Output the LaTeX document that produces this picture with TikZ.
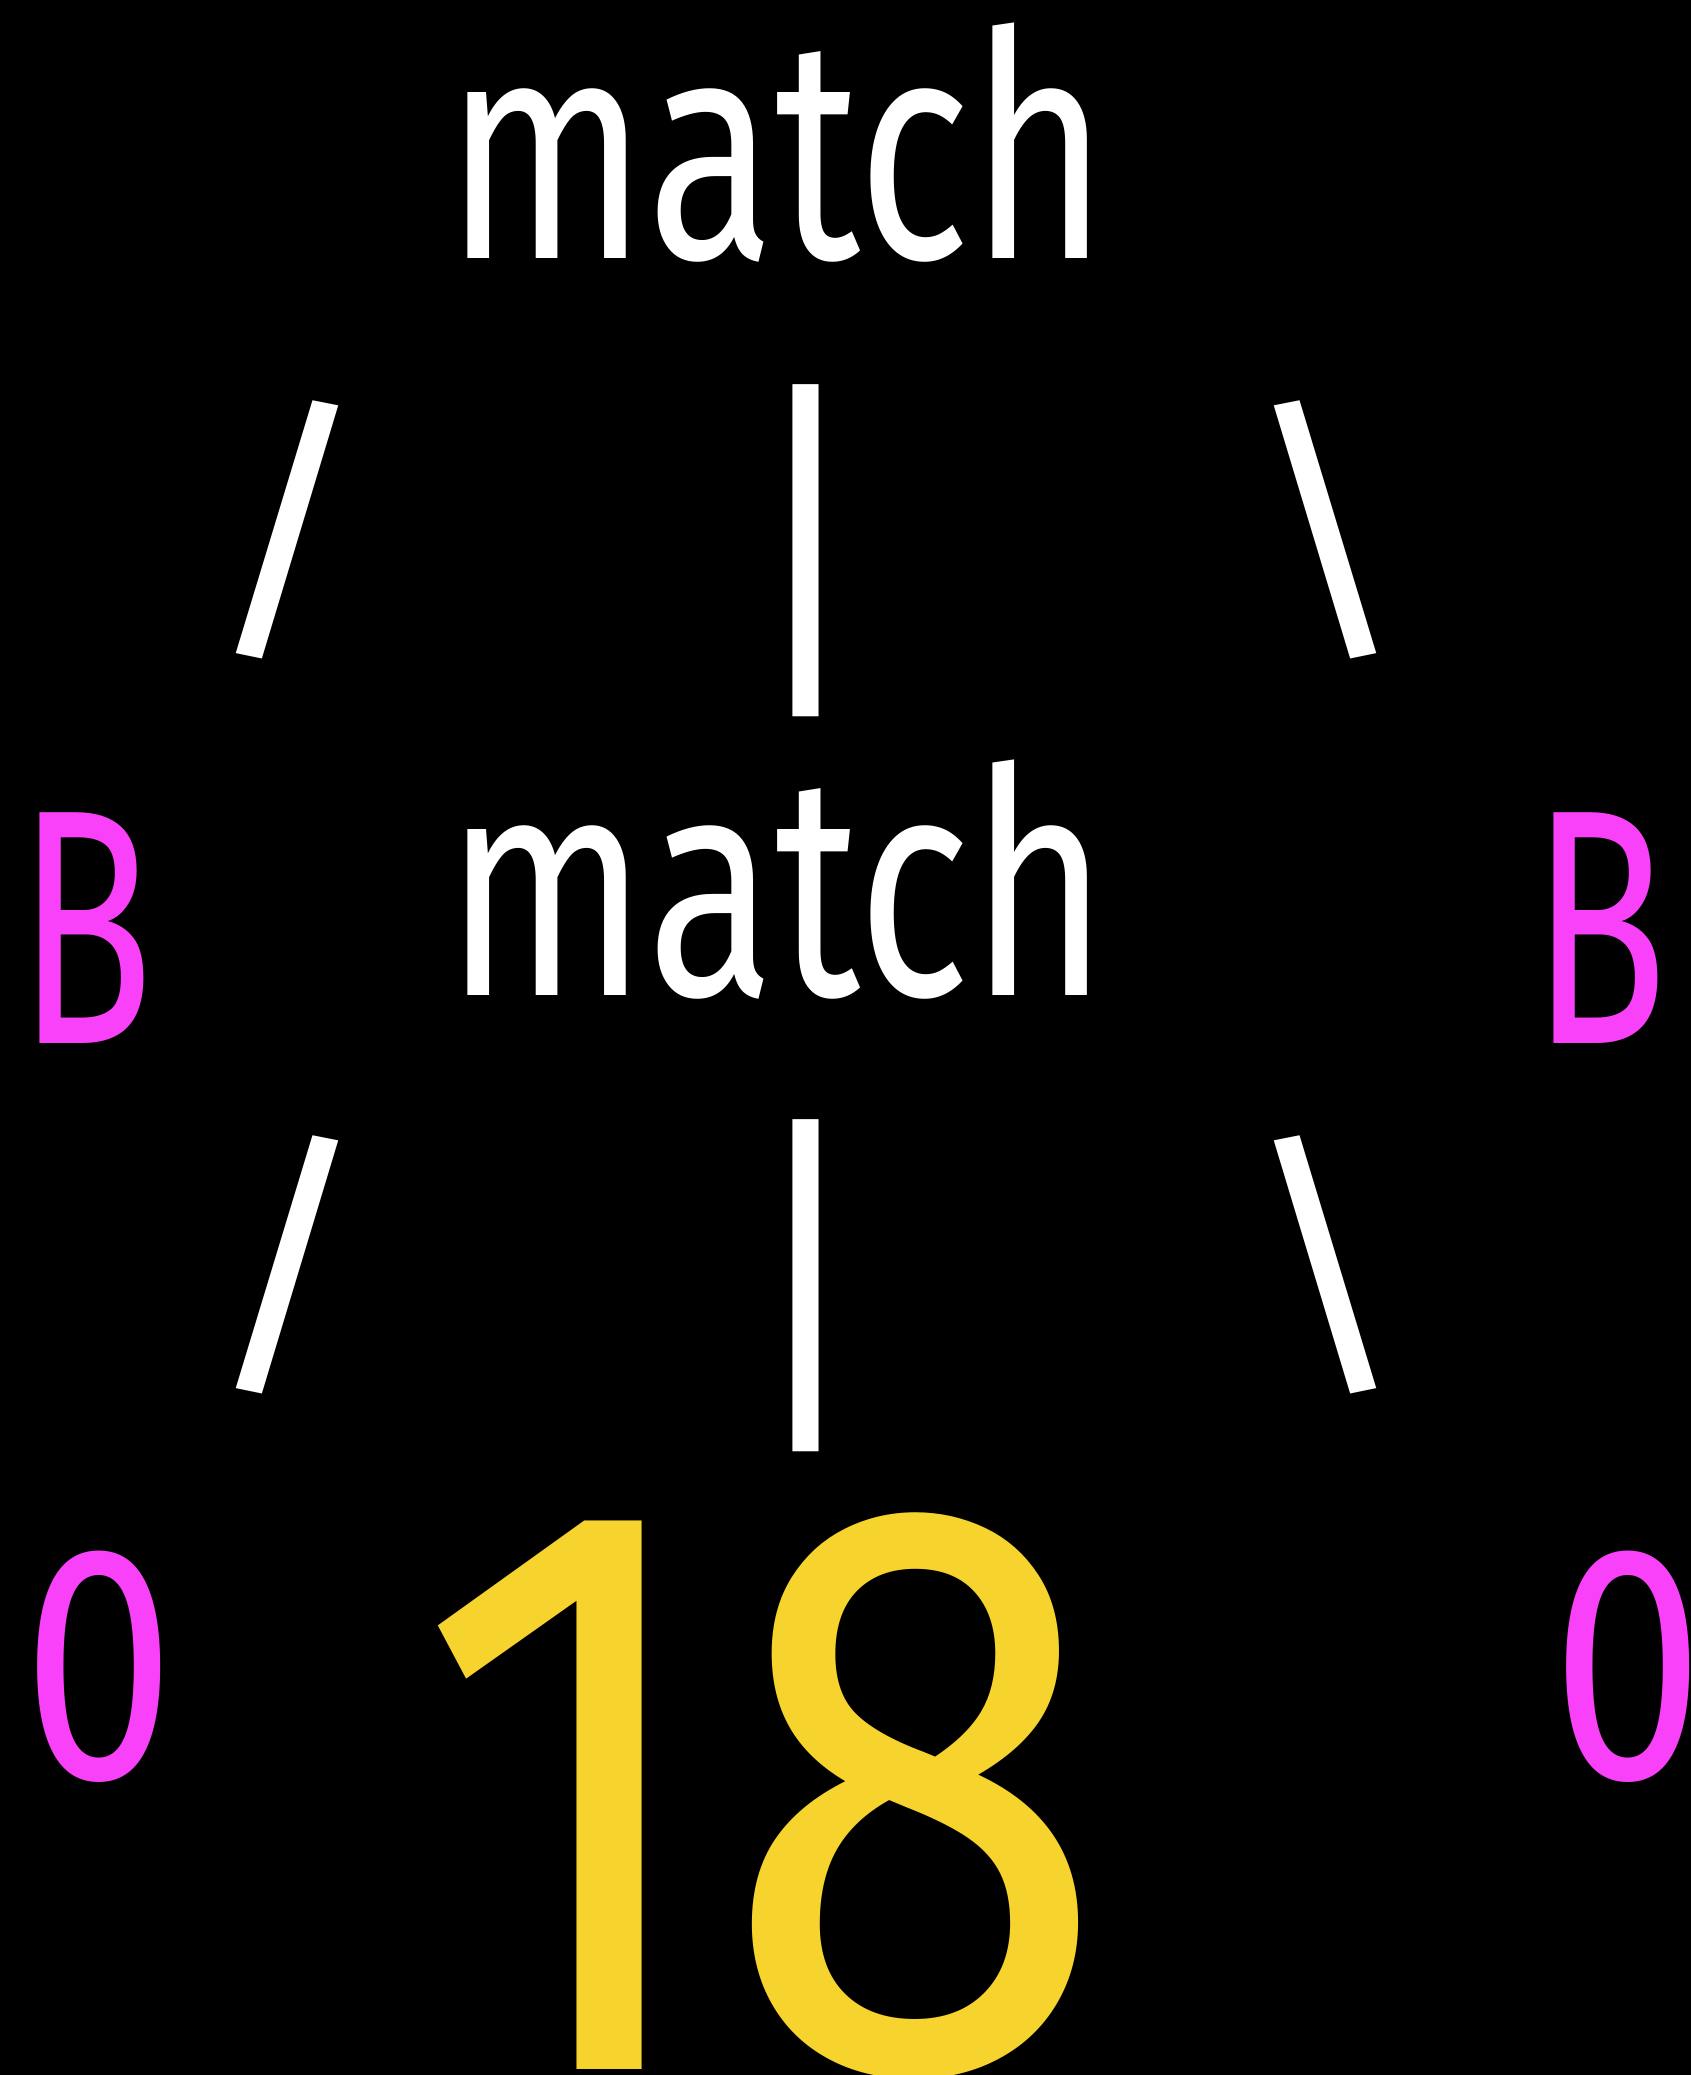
\documentclass[tikz,border=0pt]{standalone}
\usepackage{fontspec}
\setmainfont{Fira Sans}
\definecolor{mag}{HTML}{F841F8}
\definecolor{yel}{HTML}{F6D42D}
\newcommand{\gl}[4]{\scalebox{#1}[#2]{\fontsize{#3}{#3}\selectfont #4}}
\begin{document}
\begin{tikzpicture}[x=1pt,y=-1pt,
  txt/.style={inner sep=0pt,outer sep=0pt,anchor=base,text=white},
  magtxt/.style={txt,text=mag},
  yeltxt/.style={txt,text=yel}]
\fill[black] (0,0) rectangle (1691,2075);
\useasboundingbox (0,0) rectangle (1691,2075);
% row 1
\node[txt] (m1) at (777,258) {\gl{0.748}{1}{315}{match}};
\node[txt] (s1) at (287,629) {\gl{1.05}{0.9}{315}{/}};
\node[txt] (v1) at (806,679) {\gl{1}{1.16}{315}{|}};
\node[txt] (b1) at (1325,629) {\gl{1.05}{0.9}{315}{\textbackslash}};
% row 2
\node[magtxt] (B1) at (86,1043) {\gl{0.67}{1}{335}{B}};
\node[txt] (m2) at (777,995) {\gl{0.748}{1}{315}{match}};
\node[magtxt] (B2) at (1600,1043) {\gl{0.67}{1}{335}{B}};
% row 3
\node[txt] (s2) at (287,1364) {\gl{1.05}{0.9}{315}{/}};
\node[txt] (v2) at (806,1414) {\gl{1}{1.16}{315}{|}};
\node[txt] (b2) at (1325,1364) {\gl{1.05}{0.9}{315}{\textbackslash}};
% row 4
\node[magtxt] (z1) at (99,1778) {\gl{0.82}{1}{335}{0}};
\node[yeltxt] (n18) at (762,2069) {\gl{0.863}{1}{820}{18}};
\node[magtxt] (z2) at (1628,1778) {\gl{0.82}{1}{335}{0}};
\end{tikzpicture}
\end{document}
